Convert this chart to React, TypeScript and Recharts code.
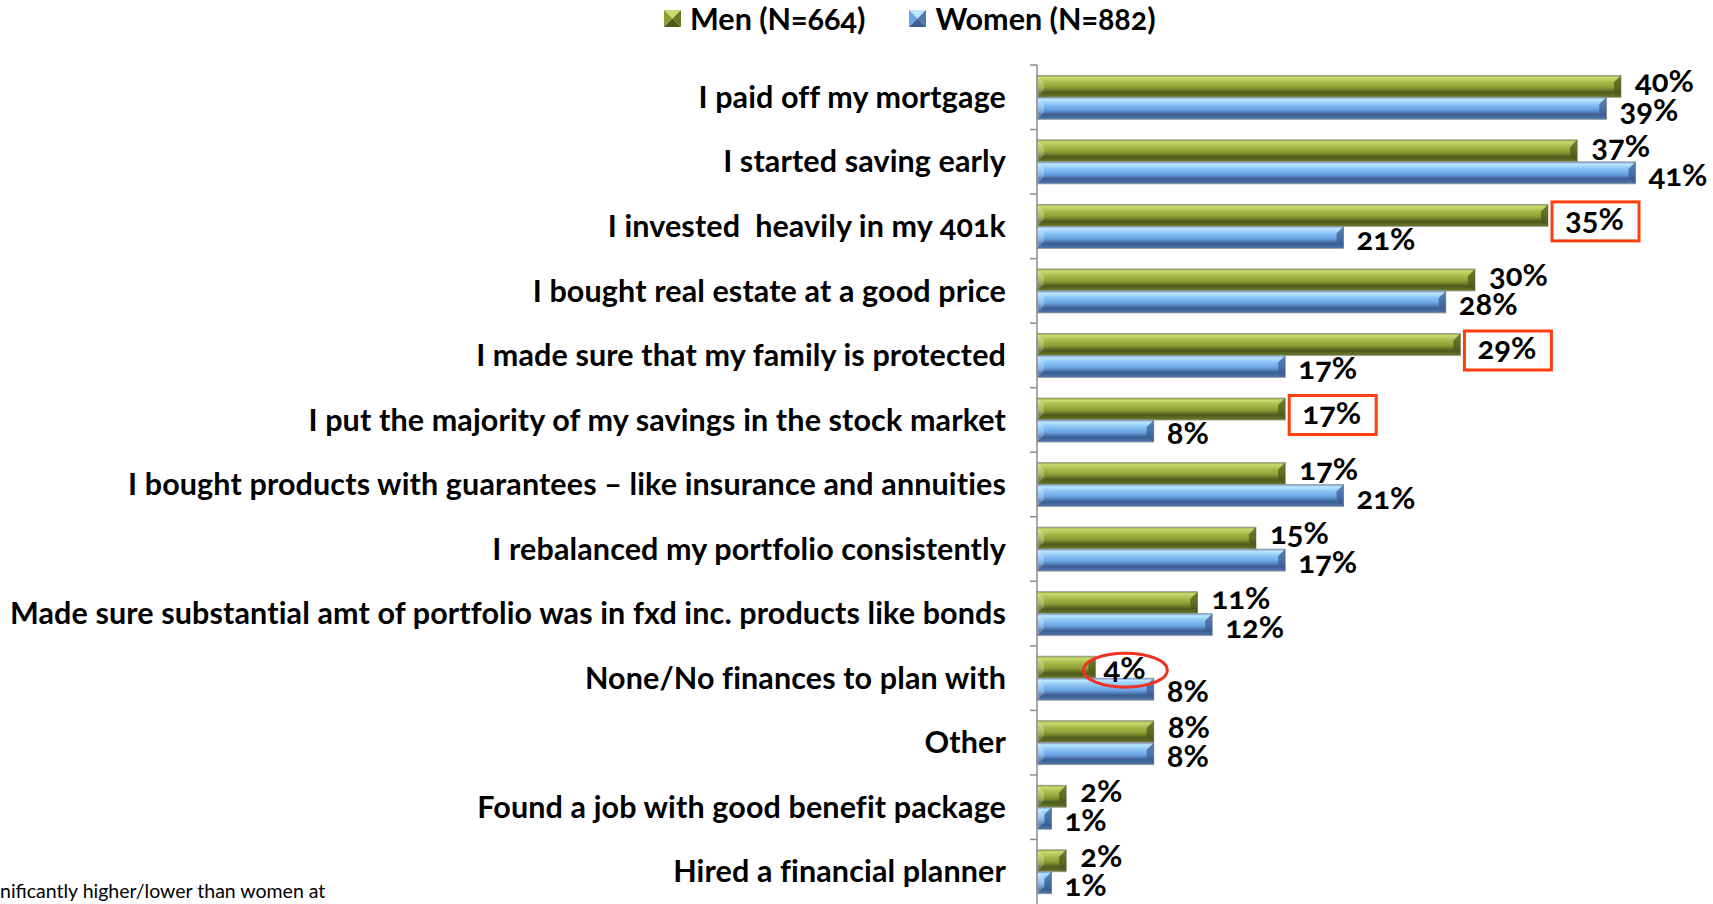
import React from 'react';
import { BarChart, Bar, XAxis, YAxis, LabelList, Legend } from 'recharts';

const categories = [
  'I paid off my mortgage',
  'I started saving early',
  'I invested  heavily in my 401k',
  'I bought real estate at a good price',
  'I made sure that my family is protected',
  'I put the majority of my savings in the stock market',
  'I bought products with guarantees – like insurance and annuities',
  'I rebalanced my portfolio consistently',
  'Made sure substantial amt of portfolio was in fxd inc. products like bonds',
  'None/No finances to plan with',
  'Other',
  'Found a job with good benefit package',
  'Hired a financial planner',
];
const menValues = [40, 37, 35, 30, 29, 17, 17, 15, 11, 4, 8, 2, 2];
const womenValues = [39, 41, 21, 28, 17, 8, 21, 17, 12, 8, 8, 1, 1];
const seriesNames = ['Men (N=664)', 'Women (N=882)'];
const boxedMen = [2, 4, 5];
const circledMen = [9];
const footnote = 'nificantly higher/lower than women at';

const data = categories.map((name, i) => ({ name, men: menValues[i], women: womenValues[i] }));

const W = 1713;
const H = 904;
const LEGEND_H = 30;
const PLOT_TOP = 65;
const AXIS_X = 1037;
const BAND = (H - PLOT_TOP) / categories.length;
const FONT = 'Lato, "Open Sans", sans-serif';
const NUM_STYLE: React.CSSProperties = { fontVariantNumeric: 'oldstyle-nums' };

const GREEN = { dark: '#4e5a1c', mid: '#8c9e34', light: '#c9db72', edge: '#6c7a28' };
const BLUE = { dark: '#3b5d92', mid: '#6aa4e4', light: '#bde6ff', edge: '#4f78ad' };

const CategoryTick = (props: any) => {
  const { y, payload } = props;
  return (
    <g>
      <line x1={AXIS_X - 7} x2={AXIS_X} y1={y - BAND / 2} y2={y - BAND / 2} stroke="#8c8c8c" strokeWidth={1.5} />
      <text
        x={AXIS_X - 31}
        y={y}
        dy="0.35em"
        textAnchor="end"
        fontFamily={FONT}
        fontWeight={700}
        fontSize={30.5}
        letterSpacing={0.12}
        fill="#000"
        style={{ whiteSpace: 'pre', ...NUM_STYLE }}
      >
        {payload.value}
      </text>
    </g>
  );
};

const makeBevel = (gid: string, c: typeof GREEN) => (props: any) => {
  const { x, y, width, height } = props;
  if (!width || width <= 0) return null;
  const b = Math.min(height * 0.32, width / 2);
  return (
    <g>
      <rect x={x} y={y} width={width} height={height} fill={`url(#${gid})`} stroke="#9a9a9a" strokeWidth={0.8} />
      <polygon
        points={`${x},${y} ${x + b},${y + b} ${x + b},${y + height - b} ${x},${y + height}`}
        fill="#ffffff"
        fillOpacity={0.25}
      />
      <polygon
        points={`${x + width},${y} ${x + width - b},${y + b} ${x + width - b},${y + height - b} ${x + width},${y + height}`}
        fill={c.dark}
        fillOpacity={0.75}
      />
    </g>
  );
};

const MenBar = makeBevel('gMen', GREEN);
const WomenBar = makeBevel('gWomen', BLUE);

const MenLabel = (props: any) => {
  const { x, y, width, height, value, index } = props;
  const end = x + width;
  const cy = y + height / 2;
  const boxed = boxedMen.includes(index);
  const circled = circledMen.includes(index);
  return (
    <g>
      {boxed && (
        <rect x={end + 4} y={cy + 6 - 19.5} width={87} height={39} fill="none" stroke="#ff3d0d" strokeWidth={3} />
      )}
      {circled && <ellipse cx={end + 30} cy={cy + 3} rx={42} ry={17} fill="none" stroke="#ee3322" strokeWidth={3} />}
      <text
        x={end + (boxed ? 17 : circled ? 8 : 14)}
        y={cy + (boxed ? 15 : circled ? 12 : 6)}
        fontFamily={FONT}
        fontWeight={700}
        fontSize={31}
        fill="#000"
        style={NUM_STYLE}
      >
        {value}%
      </text>
    </g>
  );
};

const WomenLabel = (props: any) => {
  const { x, y, width, height, value } = props;
  const end = x + width;
  const cy = y + height / 2;
  return (
    <text x={end + 13} y={cy + 13} fontFamily={FONT} fontWeight={700} fontSize={31} fill="#000" style={NUM_STYLE}>
      {value}%
    </text>
  );
};

const LegendIcon = ({ c }: { c: typeof GREEN }) => (
  <svg width={17} height={17} style={{ display: 'block' }}>
    <polygon points="0,0 17,0 8.5,8.5" fill={c.light} />
    <polygon points="0,0 8.5,8.5 0,17" fill={c.mid} />
    <polygon points="17,0 17,17 8.5,8.5" fill={c.edge} />
    <polygon points="0,17 17,17 8.5,8.5" fill={c.dark} />
  </svg>
);

const LegendContent = () => (
  <div
    style={{
      display: 'flex',
      alignItems: 'center',
      height: LEGEND_H,
      lineHeight: `${LEGEND_H}px`,
      paddingLeft: 664,
      fontFamily: FONT,
      fontWeight: 700,
      fontSize: 30.5,
      color: '#000',
      whiteSpace: 'nowrap',
      ...NUM_STYLE,
    }}
  >
    <LegendIcon c={GREEN} />
    <span style={{ marginLeft: 9 }}>{seriesNames[0]}</span>
    <span style={{ width: 44 }} />
    <LegendIcon c={BLUE} />
    <span style={{ marginLeft: 9 }}>{seriesNames[1]}</span>
  </div>
);

export default function App() {
  return (
    <div style={{ position: 'absolute', left: 0, top: 0, width: W, height: H, background: '#fff', overflow: 'hidden' }}>
      <BarChart
        width={W}
        height={H}
        data={data}
        layout="vertical"
        margin={{ top: PLOT_TOP - LEGEND_H, right: 19, bottom: 0, left: 0 }}
        barCategoryGap="16%"
        barGap={0}
      >
        <defs>
          <linearGradient id="gMen" x1="0" y1="0" x2="0" y2="1">
            <stop offset="0" stopColor="#8a9a38" />
            <stop offset="0.1" stopColor={GREEN.light} />
            <stop offset="0.3" stopColor="#a8bc4a" />
            <stop offset="0.55" stopColor={GREEN.mid} />
            <stop offset="0.78" stopColor={GREEN.dark} />
            <stop offset="1" stopColor={GREEN.edge} />
          </linearGradient>
          <linearGradient id="gWomen" x1="0" y1="0" x2="0" y2="1">
            <stop offset="0" stopColor="#6a96d0" />
            <stop offset="0.1" stopColor={BLUE.light} />
            <stop offset="0.3" stopColor="#8cc6f6" />
            <stop offset="0.55" stopColor={BLUE.mid} />
            <stop offset="0.78" stopColor={BLUE.dark} />
            <stop offset="1" stopColor={BLUE.edge} />
          </linearGradient>
        </defs>
        <Legend
          verticalAlign="top"
          content={<LegendContent />}
          wrapperStyle={{ top: 3, left: 0, width: W, height: LEGEND_H }}
        />
        <XAxis type="number" domain={[0, 45]} hide />
        <YAxis
          type="category"
          dataKey="name"
          width={AXIS_X}
          interval={0}
          axisLine={{ stroke: '#8c8c8c', strokeWidth: 1.5 }}
          tickLine={false}
          tick={<CategoryTick />}
        />
        <Bar dataKey="men" name={seriesNames[0]} shape={<MenBar />} isAnimationActive={false}>
          <LabelList dataKey="men" content={<MenLabel />} />
        </Bar>
        <Bar dataKey="women" name={seriesNames[1]} shape={<WomenBar />} isAnimationActive={false}>
          <LabelList dataKey="women" content={<WomenLabel />} />
        </Bar>
      </BarChart>
      <div
        style={{
          position: 'absolute',
          left: 0,
          top: 879,
          fontFamily: FONT,
          fontSize: 19.5,
          color: '#000',
          whiteSpace: 'nowrap',
        }}
      >
        {footnote}
      </div>
    </div>
  );
}
